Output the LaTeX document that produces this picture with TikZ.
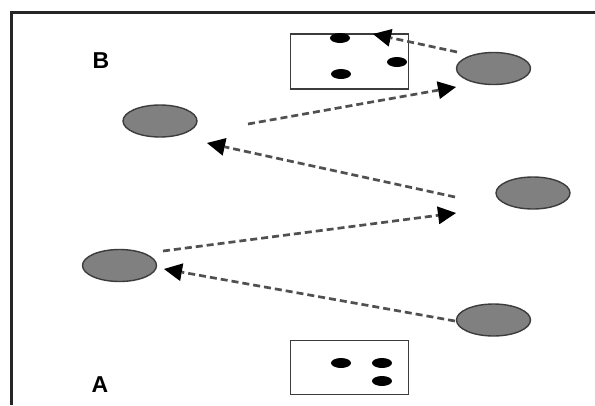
\documentclass[tikz,border=0pt]{standalone}
\usepackage{fontspec}
\setmainfont{Liberation Sans}
\usetikzlibrary{arrows.meta,shapes.geometric}
\definecolor{ellfill}{HTML}{808080}
\definecolor{ellline}{HTML}{3C3C3C}
\definecolor{dashcol}{HTML}{505050}
\begin{document}
\begin{tikzpicture}[x=1pt,y=-1pt,
  cell/.style={ellipse,draw=ellline,fill=ellfill,line width=1.4pt,minimum width=74pt,minimum height=32pt,inner sep=0pt},
  boxarea/.style={draw=ellline,line width=1.4pt,minimum width=118pt,inner sep=0pt},
  dot/.style={ellipse,fill=black,minimum width=20pt,minimum height=10pt,inner sep=0pt},
  flow/.style={draw=dashcol,line width=2.7pt,dash pattern=on 7pt off 4pt,-{Triangle[length=18pt,width=18pt,fill=black,line width=0pt,sep=0pt]}},
  lab/.style={font=\fontsize{23}{23}\selectfont\bfseries,inner sep=0pt}]
\useasboundingbox (0,0) rectangle (595,405);
\fill[white] (0,0) rectangle (595,405);
\draw[line width=3pt,color=black!85] (11.5,405) -- (11.5,12.5) -- (595,12.5);
% boxes
\node[boxarea,minimum height=55pt] (topbox) at (349.5,61.5) {};
\node[boxarea,minimum height=54pt] (botbox) at (349.5,367.5) {};
\node[dot] (d1) at (340,38) {};
\node[dot] (d2) at (397,62) {};
\node[dot] (d3) at (341,74) {};
\node[dot] (d4) at (341,363) {};
\node[dot] (d5) at (382,363) {};
\node[dot] (d6) at (382,381) {};
% cells
\node[cell] (e1) at (493.5,68.5) {};
\node[cell] (e2) at (160,121) {};
\node[cell] (e3) at (533,193) {};
\node[cell] (e4) at (119.5,265.5) {};
\node[cell] (e5) at (493.5,320) {};
% labels
\node[lab] (lb) at (101,60.5) {B};
\node[lab] (la) at (100,385) {A};
% connector ends
\coordinate (a1s) at (455,321);
\coordinate (a1e) at (164,269);
\coordinate (a2s) at (163,251);
\coordinate (a2e) at (456,213);
\coordinate (a3s) at (455,197);
\coordinate (a3e) at (207,143);
\coordinate (a4s) at (248,124);
\coordinate (a4e) at (456,87);
\coordinate (a5s) at (457,52);
\coordinate (a5e) at (373,34);
\draw[flow] (a1s) -- (a1e);
\draw[flow] (a2s) -- (a2e);
\draw[flow] (a3s) -- (a3e);
\draw[flow] (a4s) -- (a4e);
\draw[flow] (a5s) -- (a5e);
\end{tikzpicture}
\end{document}
